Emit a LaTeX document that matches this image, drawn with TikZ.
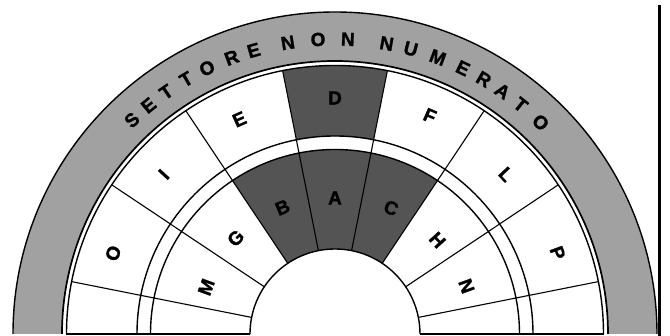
\documentclass[tikz,border=0pt]{standalone}
\usepackage{fontspec}
\setmainfont{Liberation Sans}
\newfontfamily\heavyfont{Liberation Sans Bold}[FakeBold=1.4]
\definecolor{bandgray}{rgb}{0.63,0.63,0.63}
\definecolor{seatdark}{rgb}{0.33,0.33,0.33}
\tikzset{
  seatlabel/.style={
    font=\heavyfont\fontsize{19}{19}\selectfont,
    inner sep=0pt
  },
  bandletter/.style={
    font=\heavyfont\fontsize{19}{19}\selectfont,
    inner sep=0pt
  },
  ringline/.style={
    line width=1.4pt,
    black
  },
  spoke/.style={
    line width=1.1pt,
    black
  }
}
\begin{document}
\begin{tikzpicture}[x=1pt,y=1pt]
\useasboundingbox (-335,-2) rectangle (335,334);
% band of the unnumbered sector
\fill[bandgray] (0:322) arc[start angle=0,end angle=180,radius=322]
  -- (180:273) arc[start angle=180,end angle=0,radius=273] -- cycle;
\draw[ringline] (0:322) arc[start angle=0,end angle=180,radius=322];
\draw[ringline,line width=1.7pt] (0:273) arc[start angle=0,end angle=180,radius=273];
% dark sectors
\fill[seatdark] (78.75:198) arc[start angle=78.75,end angle=101.25,radius=198]
  -- (101.25:268.5) arc[start angle=101.25,end angle=78.75,radius=268.5] -- cycle;
\fill[seatdark] (56.25:85) arc[start angle=56.25,end angle=123.75,radius=85]
  -- (123.75:184.5) arc[start angle=123.75,end angle=56.25,radius=184.5] -- cycle;
% rings
\foreach \r in {85,184.5,198,268.5}
  \draw[ringline] (0:\r) arc[start angle=0,end angle=180,radius=\r];
% spokes
\foreach \a in {11.25,33.75,...,168.75}
  \draw[spoke] (\a:85) -- (\a:268.5);
\draw[ringline] (-268.5,0) -- (-85,0);
\draw[ringline] (85,0) -- (268.5,0);
% seat labels
\foreach \t/\a/\r in {M/160/137,G/136/138,B/112.5/137,A/90/136,C/66/138,H/42.5/139,N/20/140,
                      O/160/236,I/137/234,E/114/235,D/90/236,F/66.5/238,L/43/234,P/20/237}
  \node[seatlabel,rotate=\a-90] (s\t\r) at (\a:\r) {\t};
% curved title
\foreach \c/\a [count=\i] in {S/133.5,E/129.2,T/124.9,T/120.3,O/115.7,R/110.5,E/106,
                              N/99.2,O/93.3,N/87.5,
                              N/79.9,U/75.1,M/69.6,E/64.3,R/59.7,A/55.4,T/51,O/45.8}
  \node[bandletter,rotate=\a-90] (t\i) at (\a:295) {\c};
% frame edge
\draw[line width=3pt] (324,-2) -- (324,329);
\end{tikzpicture}
\end{document}
